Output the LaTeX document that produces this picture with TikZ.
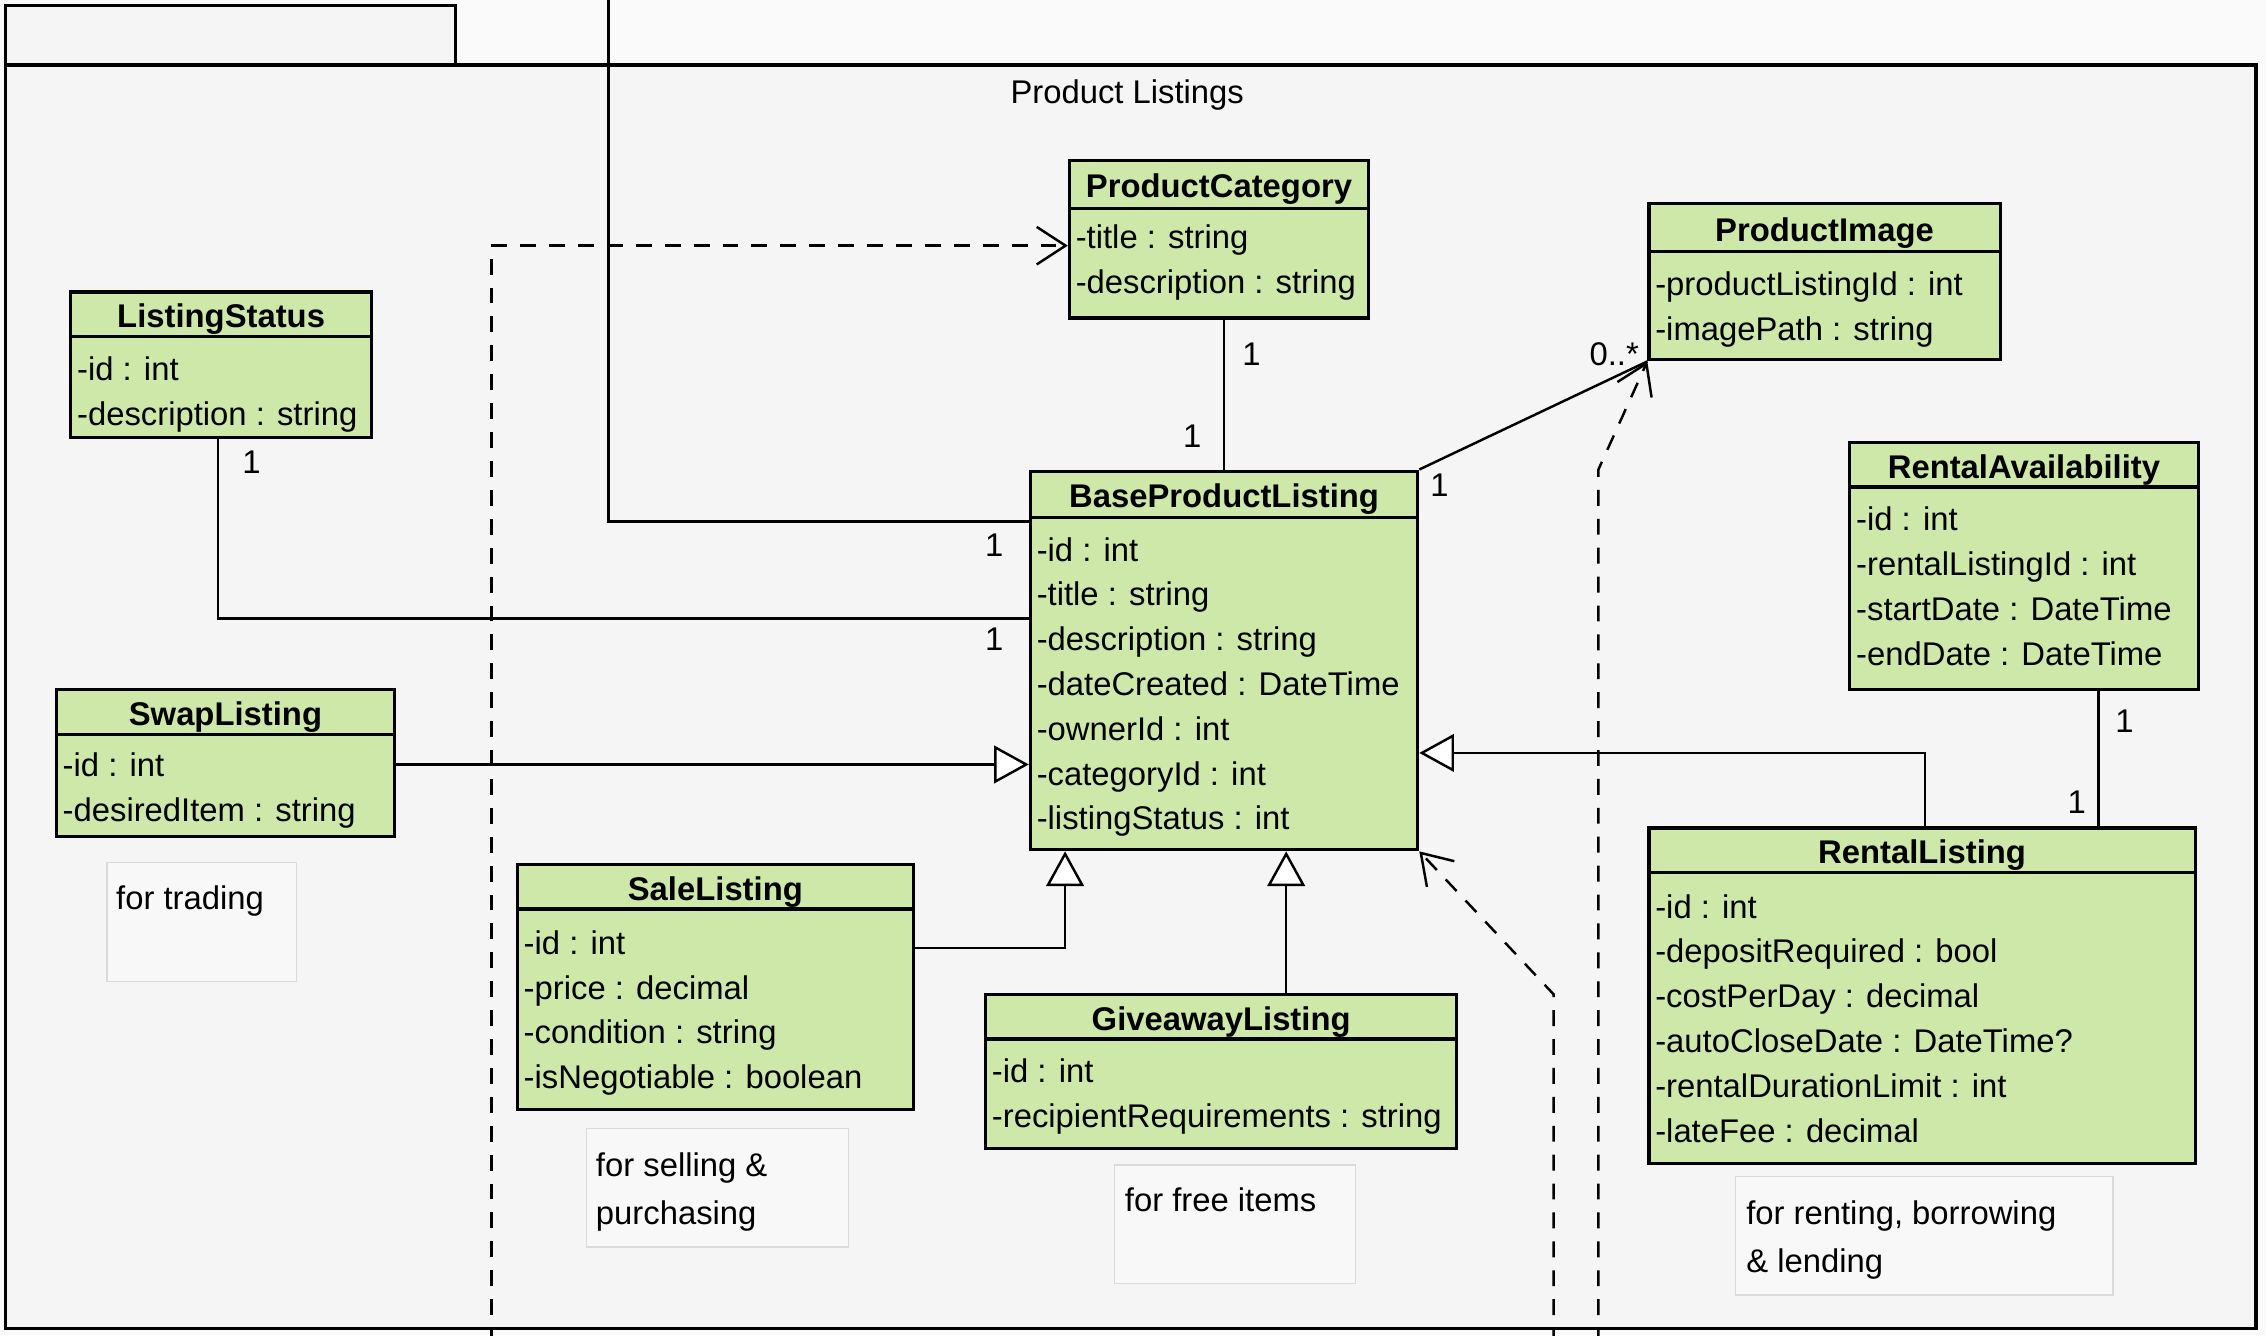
\documentclass[tikz,border=0pt]{standalone}
\usepackage{fontspec}
\setmainfont{Liberation Sans}
\usetikzlibrary{arrows.meta,fit,calc}
\definecolor{classfill}{RGB}{205,232,168}
\definecolor{pkgfill}{RGB}{245,245,245}
\definecolor{notefill}{RGB}{248,248,248}
\definecolor{noteline}{RGB}{218,218,218}
\definecolor{bgfill}{RGB}{250,250,250}
\newcommand{\umlfont}{\fontsize{11.35}{13}\selectfont}
\tikzset{
  pkg/.style={draw=black, line width=1.1pt, fill=pkgfill, inner sep=0pt},
  classbox/.style={draw=black, line width=1.1pt, fill=classfill, inner sep=0pt},
  classline/.style={draw=black, line width=1.1pt},
  classtitle/.style={font=\bfseries\umlfont, inner sep=0pt, anchor=mid},
  attr/.style={font=\umlfont, inner sep=0pt, anchor=mid west},
  lbl/.style={font=\umlfont, inner sep=0pt, anchor=mid},
  mult/.style={font=\umlfont, inner sep=0pt, anchor=center},
  assoc/.style={draw=black, line width=0.85pt},
  gen/.style={assoc, -{Triangle[fill=white,length=12pt,width=13pt]}},
  dep/.style={assoc, dash pattern=on 5.5pt off 4.5pt, -{Straight Barb[length=10pt,width=13pt]}},
  notebox/.style={draw=noteline, fill=notefill, line width=0.5pt, inner sep=0pt},
}
% name, x1, y1, x2, y2, header bottom, title
\newcommand{\umlclass}[7]{%
  \node[classbox, fit={(#2,#3) (#4,#5)}] (#1) {};
  \draw[classline] (#2,#6) -- (#4,#6);
  \node[classtitle] (#1-title) at ({(#2+#4)/2},{(#3+#6)/2+4}) {#7};
}
\newcommand{\umlattr}[4]{\node[attr] (#1) at (#2,{#3+4}) {#4};}
\begin{document}
\begin{tikzpicture}[x=0.5pt,y=-0.5pt]
\clip (0,0) rectangle (1568,924);
\fill[bgfill] (0,0) rectangle (1568,924);
% package
\node[pkg, fit={(4,4) (315,45)}] (pkgtab) {};
\node[pkg, fit={(4,45) (1561,919)}] (pkg) {};
\node[lbl] (pkglabel) at (780,66) {Product Listings};

% notes
\node[notebox, fit={(74,597) (205,679)}] (n1) {};
\umlattr{n1-t1}{80}{620}{for trading}
\node[notebox, fit={(406,781) (587,863)}] (n2) {};
\umlattr{n2-t1}{412}{805}{for selling \&}
\umlattr{n2-t2}{412}{838}{purchasing}
\node[notebox, fit={(771,806) (938,888)}] (n3) {};
\umlattr{n3-t1}{778}{829}{for free items}
\node[notebox, fit={(1201,814) (1462,896)}] (n4) {};
\umlattr{n4-t1}{1208}{838}{for renting, borrowing}
\umlattr{n4-t2}{1208}{871}{\& lending}

% classes
\umlclass{pc}{740}{111}{947}{220}{144}{ProductCategory}
\umlattr{pc-a1}{744}{163}{-title : string}
\umlattr{pc-a2}{744}{194}{-description : string}

\umlclass{pimg}{1141}{141}{1384}{249}{174}{ProductImage}
\umlattr{pimg-a1}{1145}{195}{-productListingId : int}
\umlattr{pimg-a2}{1145}{226}{-imagePath : string}

\umlclass{ls}{49}{202}{257}{303}{233}{ListingStatus}
\umlattr{ls-a1}{53}{254}{-id : int}
\umlattr{ls-a2}{53}{285}{-description : string}

\umlclass{bpl}{713}{326}{981}{588}{358}{BaseProductListing}
\umlattr{bpl-a1}{717}{379}{-id : int}
\umlattr{bpl-a2}{717}{410}{-title : string}
\umlattr{bpl-a3}{717}{441}{-description : string}
\umlattr{bpl-a4}{717}{472}{-dateCreated : DateTime}
\umlattr{bpl-a5}{717}{503}{-ownerId : int}
\umlattr{bpl-a6}{717}{534}{-categoryId : int}
\umlattr{bpl-a7}{717}{565}{-listingStatus : int}

\umlclass{ra}{1280}{306}{1521}{477}{337}{RentalAvailability}
\umlattr{ra-a1}{1284}{358}{-id : int}
\umlattr{ra-a2}{1284}{389}{-rentalListingId : int}
\umlattr{ra-a3}{1284}{420}{-startDate : DateTime}
\umlattr{ra-a4}{1284}{451}{-endDate : DateTime}

\umlclass{swap}{39}{477}{273}{579}{508}{SwapListing}
\umlattr{swap-a1}{43}{528}{-id : int}
\umlattr{swap-a2}{43}{559}{-desiredItem : string}

\umlclass{sale}{358}{598}{632}{768}{629}{SaleListing}
\umlattr{sale-a1}{362}{651}{-id : int}
\umlattr{sale-a2}{362}{682}{-price : decimal}
\umlattr{sale-a3}{362}{713}{-condition : string}
\umlattr{sale-a4}{362}{744}{-isNegotiable : boolean}

\umlclass{give}{682}{688}{1008}{795}{719}{GiveawayListing}
\umlattr{give-a1}{686}{740}{-id : int}
\umlattr{give-a2}{686}{771}{-recipientRequirements : string}

\umlclass{rent}{1141}{573}{1519}{805}{604}{RentalListing}
\umlattr{rent-a1}{1145}{626}{-id : int}
\umlattr{rent-a2}{1145}{657}{-depositRequired : bool}
\umlattr{rent-a3}{1145}{688}{-costPerDay : decimal}
\umlattr{rent-a4}{1145}{719}{-autoCloseDate : DateTime?}
\umlattr{rent-a5}{1145}{750}{-rentalDurationLimit : int}
\umlattr{rent-a6}{1145}{781}{-lateFee : decimal}

% external ends
\coordinate (extTop) at (421,-5);
\coordinate (extB1) at (340,930);
\coordinate (extB2) at (1106,930);
\coordinate (extB3) at (1075,930);

% associations
\draw[assoc] (extTop) |- (bpl.west |- 0,361);
\draw[assoc] (ls.south -| 151,0) |- (bpl.west |- 0,428);
\draw[assoc] (pc.south -| bpl.north) -- (bpl.north);
\draw[assoc] (bpl.north east) -- (pimg.south west);
\draw[assoc] (ra.south -| 1452,0) -- (rent.north -| 1452,0);

% generalizations
\draw[gen] (swap.east |- 0,529) -- (bpl.west |- 0,529);
\draw[gen] (sale.east |- 0,656) -| (bpl.south -| 737,0);
\draw[gen] (give.north -| 890,0) -- (bpl.south -| 890,0);
\draw[gen] (rent.north -| 1332,0) |- (bpl.east |- 0,521);

% dependencies
\draw[dep] (extB1) |- (pc.west |- 0,170);
\draw[dep] (extB2) -- (1106,325) -- (pimg.south west);
\draw[dep] (extB3) -- (1075,688) -- (bpl.south east);

% multiplicities
\node[mult] (m1) at (688,377) {1};
\node[mult] (m2) at (688,442) {1};
\node[mult] (m3) at (174,320) {1};
\node[mult] (m4) at (866,245) {1};
\node[mult] (m5) at (825,302) {1};
\node[mult] (m6) at (1117,245) {0..*};
\node[mult] (m7) at (996,336) {1};
\node[mult] (m8) at (1470,499) {1};
\node[mult] (m9) at (1437,555) {1};
\end{tikzpicture}
\end{document}
